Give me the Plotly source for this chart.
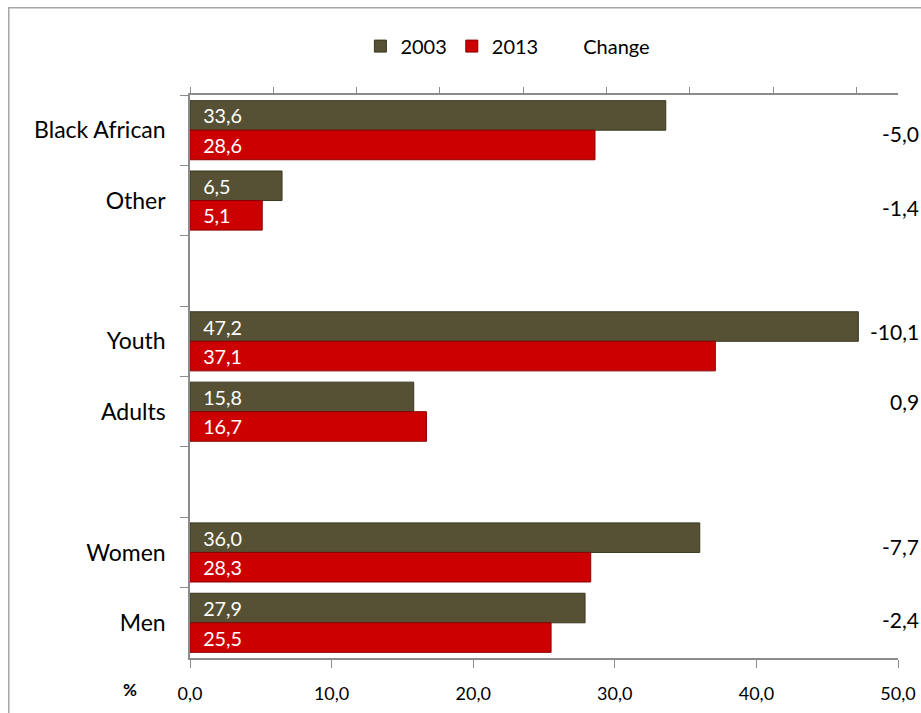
import plotly.graph_objects as go

# Data
CATEGORIES = ["Black African", "Other", " ", "Youth", "Adults", "  ", "Women", "Men"]
VALUES_2003 = [33.6, 6.5, None, 47.2, 15.8, None, 36.0, 27.9]
VALUES_2013 = [28.6, 5.1, None, 37.1, 16.7, None, 28.3, 25.5]
CHANGE = [-5.0, -1.4, None, -10.1, 0.9, None, -7.7, -2.4]
X_TICKS = [0, 10, 20, 30, 40, 50]

# vertical nudges (px) of the change labels, as placed in the original
CHANGE_NUDGE = [-3, -7, 0, 10, 10, 0, 6, 3]

PALETTE = {
    "2003": "#565134",
    "2003_edge": "#3a3722",
    "2013": "#cc0000",
    "2013_edge": "#8a0000",
    "Axis": "#8c8c8c",
    "Text": "#000000",
}
FONT = "Lato, 'Open Sans', sans-serif"


def fmt(v):
    return "" if v is None else f"{v:.1f}".replace(".", ",")


fig = go.Figure()

fig.add_trace(go.Bar(
    y=CATEGORIES, x=VALUES_2003, orientation="h", name="2003",
    marker=dict(color=PALETTE["2003"], line=dict(color=PALETTE["2003_edge"], width=1)),
    text=["\u00a0\u00a0" + fmt(v) if v is not None else "" for v in VALUES_2003],
    textposition="inside", insidetextanchor="start",
    textfont=dict(color="white", size=21, family=FONT),
    hoverinfo="x+y",
))

fig.add_trace(go.Bar(
    y=CATEGORIES, x=VALUES_2013, orientation="h", name="2013",
    marker=dict(color=PALETTE["2013"], line=dict(color=PALETTE["2013_edge"], width=1)),
    text=["\u00a0\u00a0" + fmt(v) if v is not None else "" for v in VALUES_2013],
    textposition="inside", insidetextanchor="start",
    textfont=dict(color="white", size=21, family=FONT),
    hoverinfo="x+y",
))

# "Change" series only shows in the legend; its values are written at the right edge
fig.add_trace(go.Scatter(
    x=[None], y=[None], mode="lines", name="Change",
    line=dict(color="rgba(0,0,0,0)", width=2),
    xaxis="x2", hoverinfo="skip",
))

for cat, ch, nudge in zip(CATEGORIES, CHANGE, CHANGE_NUDGE):
    if ch is None:
        continue
    fig.add_annotation(
        x=1, xref="paper", y=cat, yref="y",
        text=fmt(ch), showarrow=False,
        xanchor="right", xshift=23, yshift=nudge,
        font=dict(size=21, color=PALETTE["Text"], family=FONT),
    )

# % label left of the bottom axis labels
fig.add_annotation(
    x=-0.085, xref="paper", y=0, yref="paper", yshift=-31,
    xanchor="center", yanchor="middle",
    text="<b>%</b>", showarrow=False,
    font=dict(size=17, color=PALETTE["Text"], family=FONT),
)

# outer frame
fig.add_shape(type="rect", xref="paper", yref="paper",
              x0=-0.256, x1=1.2, y0=-0.2, y1=1.155,
              line=dict(color="#a6a6a6", width=1.5), layer="below")

fig.update_layout(
    width=921, height=713,
    margin=dict(l=190, r=23, t=95, b=55, autoexpand=False),
    paper_bgcolor="white", plot_bgcolor="white",
    font=dict(family=FONT, color=PALETTE["Text"]),
    separators=",.",
    barmode="group", bargap=0.16, bargroupgap=0,
    showlegend=True,
    legend=dict(
        orientation="h", x=0.449, xanchor="center", y=0.908, yanchor="bottom",
        yref="container",
        font=dict(size=20, color=PALETTE["Text"], family=FONT),
        itemwidth=30, traceorder="normal",
    ),
    xaxis=dict(
        range=[0, 50], tickvals=X_TICKS, tickformat=".1f",
        showgrid=False, zeroline=False,
        showline=True, linecolor=PALETTE["Axis"], linewidth=1.5,
        ticks="outside", ticklen=8, tickcolor=PALETTE["Axis"],
        tickfont=dict(size=18, family=FONT, color=PALETTE["Text"]),
        ticklabelstandoff=11,
    ),
    xaxis2=dict(
        overlaying="x", side="top", range=[0, 8.5], dtick=1, tick0=0,
        showticklabels=False, showgrid=False, zeroline=False,
        showline=True, linecolor=PALETTE["Axis"], linewidth=1.5,
        ticks="outside", ticklen=6, tickcolor=PALETTE["Axis"],
    ),
    yaxis=dict(
        autorange="reversed", type="category", tickson="boundaries",
        showgrid=False, zeroline=False,
        showline=True, linecolor=PALETTE["Axis"], linewidth=1.5,
        ticks="outside", ticklen=8, tickcolor=PALETTE["Axis"],
        tickfont=dict(size=23, family=FONT, color=PALETTE["Text"]),
        ticklabelstandoff=18,
    ),
)

# drop the browser's default page margin so the figure sits at the window corner
fig.write_html(
    "out.html",
    config={"displayModeBar": False},
    post_script="document.body.style.margin='0';document.body.style.overflow='hidden';",
)
